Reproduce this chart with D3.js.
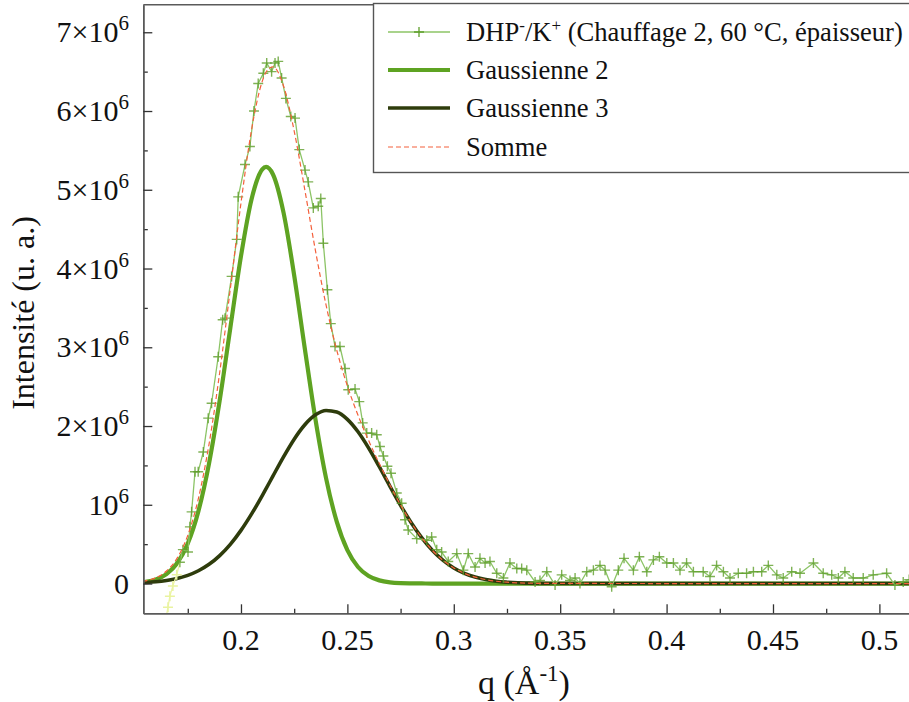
<!DOCTYPE html>
<html><head><meta charset="utf-8">
<script src="https://cdn.jsdelivr.net/npm/d3@7"></script>
<style>
body{margin:0;background:#fff}
svg{display:block}
</style>
</head><body>
<svg id="c" width="909" height="702"></svg>
<script>
// ---------------- DATA (intensity in units of 10^6) ----------------
const qData = [0.1640,0.1657,0.1666,0.1680,0.1698,0.1713,0.1727,0.1751,0.1760,0.1768,
0.1784,0.1799,0.1823,0.1846,0.1862,0.1893,0.1914,0.1925,0.1956,0.1980,
0.1987,0.2019,0.2042,0.2061,0.2081,0.2105,0.2121,0.2144,0.2160,0.2175,
0.2191,0.2211,0.2234,0.2254,0.2274,0.2301,0.2316,0.2340,0.2363,0.2375,
0.2387,0.2406,0.2422,0.2442,0.2465,0.2489,0.2504,0.2536,0.2556,0.2572,
0.2591,0.2614,0.2638,0.2653,0.2669,0.2688,0.2705,0.2732,0.2755,0.2771,
0.2786,0.2826,0.2873,0.2896,0.2920,0.2943,0.2974,0.3014,0.3045,0.3068,
0.3100,0.3123,0.3147,0.3170,0.3202,0.3233,0.3264,0.3296,0.3319,0.3343,
0.3382,0.3405,0.3437,0.3476,0.3507,0.3546,0.3570,0.3593,0.3625,0.3656,
0.3687,0.3711,0.3742,0.3773,0.3800,0.3844,0.3872,0.3907,0.3938,0.3966,
0.4001,0.4032,0.4063,0.4094,0.4126,0.4172,0.4204,0.4235,0.4267,0.4298,
0.4337,0.4376,0.4408,0.4447,0.4478,0.4518,0.4548,0.4588,0.4627,0.4690,
0.4736,0.4776,0.4807,0.4838,0.4877,0.4924,0.4971,0.5034,0.5073,0.5112,
0.5140];
const intensity = [-0.55,-0.30,-0.16,-0.03,0.11,0.27,0.43,0.40,0.72,0.91,
1.42,1.42,1.67,2.10,2.29,2.88,3.35,3.37,3.90,4.37,
4.91,5.32,5.55,6.00,6.35,6.48,6.61,6.50,6.61,6.63,
6.42,6.16,5.93,5.91,5.51,5.25,5.10,4.77,4.79,4.89,
4.32,3.73,3.30,3.01,3.01,2.73,2.46,2.47,2.31,2.04,
1.91,1.91,1.89,1.74,1.62,1.49,1.40,1.15,1.02,0.81,
0.68,0.57,0.55,0.59,0.43,0.40,0.28,0.38,0.17,0.38,
0.21,0.32,0.26,0.28,0.13,0.07,0.26,0.19,0.19,0.17,
0.02,0.04,0.15,-0.02,0.11,0.04,0.07,0.00,0.15,0.17,
0.23,0.17,-0.04,0.17,0.32,0.17,0.34,0.15,0.30,0.34,
0.26,0.26,0.17,0.26,0.15,0.15,0.09,0.23,0.15,0.07,
0.13,0.13,0.15,0.15,0.23,0.11,0.07,0.15,0.13,0.26,
0.13,0.11,0.07,0.15,0.07,0.07,0.11,0.13,-0.02,0.02,
0.05];
const maskedQMax = 0.1705;   // points below this q are masked (pale)

const qFit = [0.150,0.155,0.160,0.165,0.170,0.175,0.180,0.185,0.190,0.195,0.200,0.205,0.210,0.2118,
0.215,0.220,0.225,0.230,0.235,0.240,0.245,0.250,0.255,0.260,0.265,0.270,0.275,0.280,0.285,
0.290,0.295,0.300,0.305,0.310,0.315,0.320,0.325,0.330,0.335,0.340,0.345,0.350,0.400,0.450,0.515];
const gauss2 = [0.007,0.020,0.051,0.120,0.257,0.508,0.919,1.527,2.325,3.246,4.157,4.883,5.260,5.290,
5.197,4.709,3.913,2.983,2.085,1.336,0.786,0.424,0.210,0.095,0.040,0.015,0.005,0.002,0.001,
0,0,0,0,0,0,0,0,0,0,0,0,0,0,0,0];
const gauss3 = [0.007,0.013,0.022,0.039,0.065,0.104,0.162,0.244,0.355,0.498,0.675,0.884,1.117,1.205,
1.364,1.609,1.833,2.016,2.142,2.198,2.178,2.085,1.927,1.720,1.483,1.235,0.993,0.772,0.579,
0.419,0.293,0.198,0.129,0.082,0.050,0.029,0.017,0.009,0.005,0.002,0.001,0.001,0,0,0];
const somme = [0.014,0.033,0.073,0.159,0.322,0.612,1.081,1.771,2.680,3.744,4.832,5.767,6.377,6.495,
6.561,6.318,5.746,4.999,4.227,3.534,2.964,2.509,2.137,1.815,1.523,1.250,0.998,0.774,0.580,
0.419,0.293,0.198,0.129,0.082,0.050,0.029,0.017,0.009,0.005,0.002,0.001,0.001,0,0,0];

const xMajorTicks = [0.2,0.25,0.3,0.35,0.4,0.45,0.5];
const xTickLabels = ["0.2","0.25","0.3","0.35","0.4","0.45","0.5"];
const xMinorTicks = [0.175,0.225,0.275,0.325,0.375,0.425,0.475];
const yMajorTicks = [0,1,2,3,4,5,6,7];
const yMinorTicks = [0.5,1.5,2.5,3.5,4.5,5.5,6.5];
const legendLabels = ["DHP-/K+ (Chauffage 2, 60 °C, épaisseur)","Gaussienne 2","Gaussienne 3","Somme"];

// ---------------- CHART ----------------
const FONT = "'Liberation Serif', 'Times New Roman', 'DejaVu Serif', serif";
const svg = d3.select("#c");
const L = 143.3, R = 909.4, T = 4.7, B = 613.3;
const x = d3.scaleLinear().domain([0.1541, 0.5141]).range([L, R]);
const y = d3.scaleLinear().domain([-0.378, 7.35]).range([B, T]);

svg.append("defs").append("clipPath").attr("id","clip")
  .append("rect").attr("x",L).attr("y",T).attr("width",R-L).attr("height",B-T);

const plot = svg.append("g").attr("clip-path","url(#clip)");

const fitLine = (vals) => d3.line().x((d,i)=>x(qFit[i])).y((d,i)=>y(vals[i])).curve(d3.curveMonotoneX)(vals);

plot.append("path").attr("d", fitLine(gauss2)).attr("fill","none")
  .attr("stroke","#5ea322").attr("stroke-width",4.2).attr("stroke-linejoin","round");
plot.append("path").attr("d", fitLine(gauss3)).attr("fill","none")
  .attr("stroke","#2e3c0c").attr("stroke-width",3.6).attr("stroke-linejoin","round");

const pts = qData.map((q,i)=>({q, v: intensity[i]}));
const masked = pts.filter(p=>p.q < maskedQMax);
const firstGood = pts.findIndex(p=>p.q >= maskedQMax);
const good = pts.slice(firstGood);
const dl = d3.line().x(d=>x(d.q)).y(d=>y(d.v));
plot.append("path").attr("d", dl(pts.slice(0, firstGood+1))).attr("fill","none")
  .attr("stroke","#eef5a6").attr("stroke-width",1.3);
plot.append("path").attr("d", dl(good)).attr("fill","none")
  .attr("stroke","#8cc466").attr("stroke-width",1.3);
const cross = "M-5,0H5M0,-5V5";
plot.selectAll(".mk").data(masked).join("path").attr("class","mk")
  .attr("d",cross).attr("transform",d=>`translate(${x(d.q)},${y(d.v)})`)
  .attr("stroke","#e9f3a0").attr("stroke-width",1.5).attr("fill","none");
plot.selectAll(".mg").data(good).join("path").attr("class","mg")
  .attr("d",cross).attr("transform",d=>`translate(${x(d.q)},${y(d.v)})`)
  .attr("stroke","#5f9f2c").attr("stroke-width",1.4).attr("stroke-opacity",0.8).attr("fill","none");

plot.append("path").attr("d", fitLine(somme)).attr("fill","none")
  .attr("stroke","#f4603c").attr("stroke-width",1.2).attr("stroke-dasharray","5,3");

const axisColor = "#5a5a5a";
function styleAxis(g){
  g.selectAll(".domain").attr("stroke",axisColor).attr("stroke-width",1.5);
  g.selectAll(".tick line").attr("stroke","#333").attr("stroke-width",1.3);
  g.selectAll(".tick text").remove();
}
svg.append("g").attr("transform",`translate(0,${B})`)
  .call(d3.axisBottom(x).tickValues(xMinorTicks).tickSize(-4.5).tickSizeOuter(0)).call(styleAxis);
svg.append("g").attr("transform",`translate(0,${B})`)
  .call(d3.axisBottom(x).tickValues(xMajorTicks).tickSize(-9).tickSizeOuter(0)).call(styleAxis);
svg.append("g").attr("transform",`translate(${L},0)`)
  .call(d3.axisLeft(y).tickValues(yMinorTicks).tickSize(-4.5).tickSizeOuter(0)).call(styleAxis);
svg.append("g").attr("transform",`translate(${L},0)`)
  .call(d3.axisLeft(y).tickValues(yMajorTicks).tickSize(-9).tickSizeOuter(0)).call(styleAxis);
svg.append("line").attr("x1",L).attr("x2",R).attr("y1",T).attr("y2",T)
  .attr("stroke",axisColor).attr("stroke-width",1.5);

const txt = (sel) => sel.append("text").attr("font-family",FONT).attr("fill","#111");

svg.selectAll(".xl").data(xMajorTicks).join("text").attr("class","xl")
  .attr("font-family",FONT).attr("fill","#111")
  .attr("x",d=>x(d)).attr("y",650).attr("text-anchor","middle").attr("font-size",30)
  .text((d,i)=>xTickLabels[i]);

yMajorTicks.forEach(v=>{
  const t = txt(svg).attr("x",129).attr("y",y(v)+10).attr("text-anchor","end").attr("font-size",30);
  if (v===0) { t.text("0"); return; }
  t.append("tspan").text(v===1 ? "10" : v+"×10");
  t.append("tspan").attr("dy",-12).attr("font-size",21).text("6");
});

const xt = txt(svg).attr("x",524).attr("y",694).attr("text-anchor","middle").attr("font-size",34);
xt.append("tspan").text("q (Å");
xt.append("tspan").attr("dy",-13).attr("font-size",23).text("-1");
xt.append("tspan").attr("dy",13).text(")");
txt(svg).attr("transform","translate(34,313) rotate(-90)").attr("text-anchor","middle")
  .attr("font-size",32).text("Intensité (u. a.)");

const lg = svg.append("g");
lg.append("rect").attr("x",373.5).attr("y",3.5).attr("width",600).attr("height",169)
  .attr("fill","#fff").attr("stroke","#555").attr("stroke-width",1.4);
const rows = [32,70,108,147];
const lx1 = 388, lx2 = 450, tx = 466;
lg.append("line").attr("x1",lx1).attr("x2",lx2).attr("y1",rows[0]).attr("y2",rows[0]).attr("stroke","#8cc466").attr("stroke-width",1.3);
lg.append("path").attr("d",cross).attr("transform",`translate(${(lx1+lx2)/2},${rows[0]})`).attr("stroke","#5f9f2c").attr("stroke-width",1.3);
lg.append("line").attr("x1",lx1).attr("x2",lx2).attr("y1",rows[1]).attr("y2",rows[1]).attr("stroke","#5ea322").attr("stroke-width",4.2);
lg.append("line").attr("x1",lx1).attr("x2",lx2).attr("y1",rows[2]).attr("y2",rows[2]).attr("stroke","#2e3c0c").attr("stroke-width",3.6);
lg.append("line").attr("x1",lx1).attr("x2",lx2).attr("y1",rows[3]).attr("y2",rows[3]).attr("stroke","#f4603c").attr("stroke-width",1.2).attr("stroke-dasharray","5,3");

const t0 = txt(lg).attr("x",tx).attr("y",rows[0]+9).attr("font-size",26.6);
t0.append("tspan").text("DHP");
t0.append("tspan").attr("dy",-10).attr("font-size",17).text("-");
t0.append("tspan").attr("dy",10).text("/K");
t0.append("tspan").attr("dy",-10).attr("font-size",17).text("+");
t0.append("tspan").attr("dy",10).text(" (Chauffage 2, 60 °C, épaisseur)");
for (let i=1;i<4;i++){
  txt(lg).attr("x",tx).attr("y",rows[i]+9).attr("font-size",26.6).text(legendLabels[i]);
}
</script>
</body></html>
